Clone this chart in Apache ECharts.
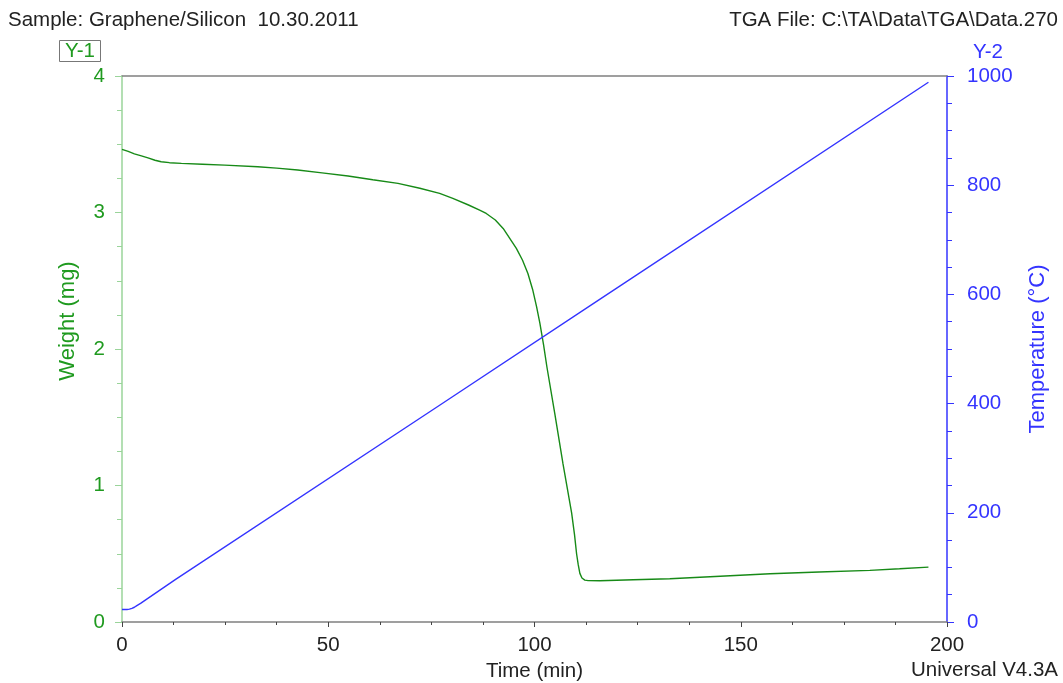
<!DOCTYPE html>
<html>
<head>
<meta charset="utf-8">
<title>TGA Graphene/Silicon</title>
<script src="https://cdn.jsdelivr.net/npm/echarts@6/dist/echarts.min.js"></script>
<style>
  html, body { margin: 0; padding: 0; background: #fff; }
  #chart { width: 1063px; height: 683px; }
</style>
</head>
<body>
<div id="chart"></div>
<script>
// weight curve: [time (min), weight (mg)]
var weightData = [
    [0, 3.463], [1.5, 3.448], [3.0, 3.43], [4.7, 3.415], [6.3, 3.40], [8.0, 3.383],
    [9.5, 3.372], [11.5, 3.365], [14.4, 3.36], [19.5, 3.354], [24.9, 3.347],
    [32.9, 3.335], [37.5, 3.325], [42.6, 3.311], [48.5, 3.29], [54.8, 3.267],
    [60.8, 3.24], [66.9, 3.213], [72.2, 3.178], [77.0, 3.14], [80.2, 3.103],
    [84.0, 3.055], [86.7, 3.017], [88.3, 2.993], [90.5, 2.945], [92.4, 2.883],
    [94.0, 2.81], [95.6, 2.737], [97.1, 2.65], [98.4, 2.553], [99.6, 2.43],
    [100.5, 2.31], [101.3, 2.19], [102.2, 2.03], [103.0, 1.87], [104.9, 1.53],
    [106.9, 1.16], [109.0, 0.80], [109.7, 0.64], [110.2, 0.50], [110.6, 0.42],
    [111.0, 0.356], [111.5, 0.322], [112.2, 0.307], [113.0, 0.303], [115.8, 0.302],
    [124.0, 0.309], [132.8, 0.317], [145.0, 0.335], [157.1, 0.353], [169.0, 0.366],
    [181.3, 0.378], [188.5, 0.39], [195.5, 0.402]
];
// temperature ramp: [time (min), temperature (C)]
var tempData = [
    [0, 23], [1.2, 23], [1.8, 23.5], [2.4, 25], [3.0, 27], [3.6, 30],
    [4.5, 34], [6, 42], [13, 78], [77, 397], [115.8, 591], [195.5, 988.5]
];
var xTicks = [0, 50, 100, 150, 200];
var weightTicks = [0, 1, 2, 3, 4];
var tempTicks = [0, 200, 400, 600, 800, 1000];

var green = '#1f9a1f';
var greenLine = '#178a17';
var blue = '#3434ff';
var font = 'Arial, "Liberation Sans", sans-serif';
var fs = 20.5;

var myChart = echarts.init(document.getElementById('chart'));
var option = {
    animation: false,
    grid: {
        left: 122,
        right: 116,
        top: 76,
        bottom: 61,
        containLabel: false,
        outerBoundsMode: 'none'
    },
    graphic: [
        {
            type: 'text', x: 8, y: 20,
            style: { text: 'Sample: Graphene/Silicon  10.30.2011', fontSize: fs, fontFamily: font, fill: '#222', verticalAlign: 'middle' }
        },
        {
            type: 'text', x: 1058, y: 20,
            style: { text: 'TGA File: C:\\TA\\Data\\TGA\\Data.270', fontSize: fs, fontFamily: font, fill: '#222', align: 'right', verticalAlign: 'middle' }
        },
        {
            type: 'rect', shape: { x: 59.5, y: 40.5, width: 41, height: 21 },
            style: { fill: '#fff', stroke: '#777', lineWidth: 1 }
        },
        {
            type: 'text', x: 80, y: 51.5,
            style: { text: 'Y-1', fontSize: fs, fontFamily: font, fill: green, align: 'center', verticalAlign: 'middle' }
        },
        {
            type: 'text', x: 988, y: 52,
            style: { text: 'Y-2', fontSize: fs, fontFamily: font, fill: blue, align: 'center', verticalAlign: 'middle' }
        },
        {
            type: 'text', x: 68, y: 321, rotation: Math.PI / 2,
            style: { text: 'Weight (mg)', fontSize: 22, fontFamily: font, fill: green, align: 'center', verticalAlign: 'middle' }
        },
        {
            type: 'text', x: 1058, y: 670,
            style: { text: 'Universal V4.3A', fontSize: fs, fontFamily: font, fill: '#222', align: 'right', verticalAlign: 'middle' }
        }
    ],
    xAxis: [
        {
            type: 'value',
            min: xTicks[0],
            max: xTicks[xTicks.length - 1],
            interval: 50,
            name: 'Time (min)',
            nameLocation: 'middle',
            nameGap: 33,
            nameTextStyle: { fontSize: fs, fontFamily: font, color: '#222' },
            axisLine: { show: true, onZero: false, lineStyle: { color: '#808080', width: 1.5 } },
            axisTick: { show: true, length: 5, lineStyle: { color: '#444' } },
            minorTick: { show: true, splitNumber: 4, length: 3, lineStyle: { color: '#444' } },
            axisLabel: { fontSize: fs, fontFamily: font, color: '#222', margin: 13 },
            splitLine: { show: false }
        },
        {
            type: 'value',
            position: 'top',
            min: 0,
            max: 200,
            axisLine: { show: true, onZero: false, lineStyle: { color: '#808080', width: 1.5 } },
            axisTick: { show: false },
            axisLabel: { show: false },
            splitLine: { show: false }
        }
    ],
    yAxis: [
        {
            type: 'value',
            position: 'left',
            min: weightTicks[0],
            max: weightTicks[weightTicks.length - 1],
            interval: 1,
            axisLine: { show: true, onZero: false, lineStyle: { color: '#9ad49a', width: 1.5 } },
            axisTick: { show: true, length: 7, lineStyle: { color: '#9ad49a' } },
            minorTick: { show: true, splitNumber: 4, length: 5, lineStyle: { color: '#9ad49a' } },
            axisLabel: { fontSize: fs, fontFamily: font, color: green, margin: 17 },
            splitLine: { show: false }
        },
        {
            type: 'value',
            position: 'right',
            min: tempTicks[0],
            max: tempTicks[tempTicks.length - 1],
            interval: 200,
            name: 'Temperature (°C)',
            nameLocation: 'middle',
            nameGap: 80,
            nameTextStyle: { fontSize: 22, fontFamily: font, color: blue },
            axisLine: { show: true, onZero: false, lineStyle: { color: blue, width: 1.5 } },
            axisTick: { show: true, length: 7, lineStyle: { color: blue } },
            minorTick: { show: true, splitNumber: 4, length: 5, lineStyle: { color: blue } },
            axisLabel: {
                fontSize: fs, fontFamily: font, color: blue, margin: 20,
                formatter: function (v) { return String(v); }
            },
            splitLine: { show: false }
        }
    ],
    series: [
        {
            name: 'Weight',
            type: 'line',
            yAxisIndex: 0,
            data: weightData,
            showSymbol: false,
            lineStyle: { color: greenLine, width: 1.4 }
        },
        {
            name: 'Temperature',
            type: 'line',
            yAxisIndex: 1,
            data: tempData,
            showSymbol: false,
            lineStyle: { color: blue, width: 1.4 }
        }
    ]
};
myChart.setOption(option);
</script>
</body>
</html>
